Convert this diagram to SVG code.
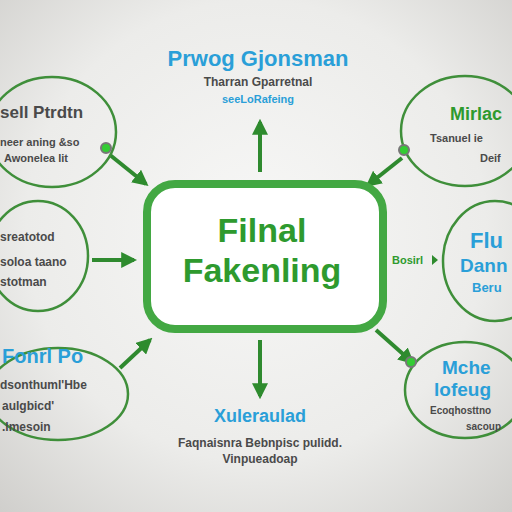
<svg xmlns="http://www.w3.org/2000/svg" width="512" height="512" viewBox="0 0 512 512">
<defs>
<radialGradient id="bg" cx="0.5" cy="0.45" r="0.75">
<stop offset="0" stop-color="#f7f7f6"/>
<stop offset="0.6" stop-color="#ececea"/>
<stop offset="1" stop-color="#cfcecb"/>
</radialGradient>
<marker id="ah" viewBox="0 0 10 10" refX="8" refY="5" markerWidth="4" markerHeight="4" orient="auto">
<path d="M0,0 L10,5 L0,10 z" fill="#2e8b2e"/>
</marker>
<style>
.bub{fill:none;stroke:#3f8f3a;stroke-width:2.5}
.con{stroke:#2f8a2f;stroke-width:4;fill:none;marker-end:url(#ah)}
.blue{font-family:"Liberation Sans",Arial,sans-serif;fill:#2a9fd8;font-weight:bold}
.gray{font-family:"Liberation Sans",Arial,sans-serif;fill:#4a4a4a;font-weight:bold}
.green{font-family:"Liberation Sans",Arial,sans-serif;fill:#2e9a2e;font-weight:bold}
.dot{fill:#33cc33;stroke:#777;stroke-width:2}
</style>
</defs>
<rect width="512" height="512" fill="url(#bg)"/>
<g id="connectors">
<path class="con" d="M260,172 L260,122"/>
<path class="con" d="M110,155 L146,184"/>
<path class="con" d="M92,260 L134,260"/>
<path class="con" d="M120,368 L150,340"/>
<path class="con" d="M402,158 L368,185"/>
<path class="con" d="M376,330 L412,362"/>
<path class="con" d="M260,340 L260,396"/>
</g>
<g id="center">
<rect x="147" y="184" width="236" height="145" rx="28" fill="#ffffff" stroke="#43a843" stroke-width="8"/>
<text class="green" x="262" y="242" text-anchor="middle" font-size="34" fill="#2a942a">Filnal</text>
<text class="green" x="262" y="282" text-anchor="middle" font-size="34" fill="#2a942a">Fakenling</text>
</g>
<g id="top">
<text class="blue" x="258" y="66" text-anchor="middle" font-size="22">Prwog Gjonsman</text>
<text class="gray" x="258" y="86" text-anchor="middle" font-size="12">Tharran Gparretnal</text>
<text class="blue" x="258" y="103" text-anchor="middle" font-size="11">seeLoRafeing</text>
</g>
<g id="left-top">
<ellipse class="bub" cx="52" cy="132" rx="64" ry="55"/>
<circle class="dot" cx="106" cy="148" r="5"/>
<text class="gray" x="0" y="118" font-size="17">sell Ptrdtn</text>
<text class="gray" x="0" y="146" font-size="11">neer aning &amp;so</text>
<text class="gray" x="4" y="162" font-size="11">Awonelea lit</text>
</g>
<g id="left-mid">
<ellipse class="bub" cx="38" cy="256" rx="50" ry="55"/>
<text class="gray" x="0" y="241" font-size="12">sreatotod</text>
<text class="gray" x="0" y="266" font-size="12">soloa taano</text>
<text class="gray" x="0" y="286" font-size="12">stotman</text>
</g>
<g id="left-bottom">
<ellipse class="bub" cx="58" cy="394" rx="70" ry="46"/>
<text class="blue" x="2" y="363" font-size="20">Fonrl Po</text>
<text class="gray" x="0" y="389" font-size="12">dsonthuml'Hbe</text>
<text class="gray" x="2" y="410" font-size="12">aulgbicd'</text>
<text class="gray" x="2" y="431" font-size="12">.lmesoin</text>
</g>
<g id="right-top">
<ellipse class="bub" cx="465" cy="131" rx="64" ry="55"/>
<circle class="dot" cx="404" cy="150" r="5"/>
<text class="green" x="450" y="120" font-size="18">Mirlac</text>
<text class="gray" x="430" y="142" font-size="11">Tsanuel ie</text>
<text class="gray" x="480" y="162" font-size="11">Deif</text>
</g>
<g id="right-mid">
<ellipse class="bub" cx="495" cy="261" rx="52" ry="60"/>
<text class="green" x="392" y="264" font-size="11">Bosirl</text>
<path d="M432,255 L438,260 L432,265 z" fill="#2e8b2e"/>
<text class="blue" x="470" y="248" font-size="22" font-weight="normal">Flu</text>
<text class="blue" x="460" y="272" font-size="19" font-weight="normal">Dann</text>
<text class="blue" x="472" y="292" font-size="13" font-weight="normal">Beru</text>
</g>
<g id="right-bottom">
<ellipse class="bub" cx="465" cy="390" rx="60" ry="48"/>
<circle class="dot" cx="411" cy="362" r="5"/>
<text class="blue" x="442" y="374" font-size="19" font-weight="normal">Mche</text>
<text class="blue" x="434" y="396" font-size="19" font-weight="normal">lofeug</text>
<text class="gray" x="430" y="414" font-size="10">Ecoqhosttno</text>
<text class="gray" x="466" y="430" font-size="10">sacoup</text>
</g>
<g id="bottom">
<text class="blue" x="260" y="422" text-anchor="middle" font-size="18">Xuleraulad</text>
<text class="gray" x="260" y="447" text-anchor="middle" font-size="12">Faqnaisnra Bebnpisc pulidd.</text>
<text class="gray" x="260" y="463" text-anchor="middle" font-size="12">Vinpueadoap</text>
</g>
</svg>
